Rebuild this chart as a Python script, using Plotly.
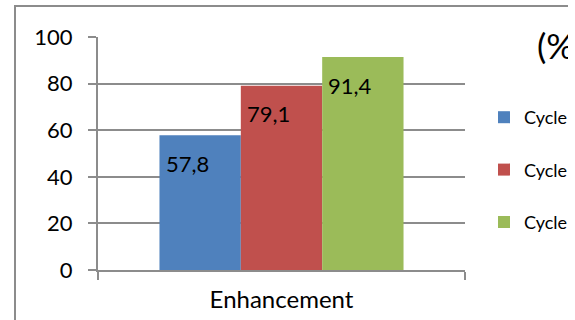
import plotly.graph_objects as go

categories = ["Enhancement"]
series_names = ["Cycle 1", "Cycle 2", "Cycle 3"]
series_values = [[57.8], [79.1], [91.4]]
colors = ["#4F81BD", "#C0504D", "#9BBB59"]
y_ticks = [0, 20, 40, 60, 80, 100]
title_text = "(%)"

W, H = 568, 320
L, R, T, B = 98, 103, 37, 50
FONT = "Lato"
GRAY = "#8C8C8C"

fig = go.Figure()
for i, (name, vals) in enumerate(zip(series_names, series_values)):
    fig.add_trace(go.Bar(
        x=categories, y=vals, name=name, marker_color=colors[i],
        marker_line_width=0, legendgroup=name,
        hoverinfo="skip",
    ))

# data labels
bar_px = (W - L - R) * (1 - 0.335) / len(series_names)
for i, vals in enumerate(series_values):
    for c, v in zip(categories, vals):
        fig.add_annotation(
            x=c, y=v, xref="x", yref="y", text=f"{v:.1f}".replace(".", ","),
            showarrow=False, xshift=(i - 1) * bar_px - 13, yshift=-28,
            font=dict(family=FONT, size=22, color="#000000"),
        )

pw = W - L - R
ph = H - T - B
def px_x(p):
    return (p - L) / pw
def px_y(p):
    return (H - B - p) / ph

# outer chart-area border (left and top visible)
fig.add_shape(type="path", xref="paper", yref="paper",
              path=f"M {px_x(15)},{px_y(340)} L {px_x(15)},{px_y(6)} L {px_x(600)},{px_y(6)}",
              line=dict(color=GRAY, width=2), layer="below")

fig.add_annotation(text=title_text, xref="paper", yref="paper",
                   x=px_x(535), y=px_y(45), xanchor="left", yanchor="middle",
                   showarrow=False, font=dict(family=FONT, size=35, color="#000000"))

fig.update_layout(
    width=W, height=H,
    margin=dict(l=L, r=R, t=T, b=B, autoexpand=False),
    paper_bgcolor="white", plot_bgcolor="white",
    barmode="group", bargap=0.335, bargroupgap=0,
    showlegend=True,
    legend=dict(x=px_x(484), y=px_y(99), xanchor="left", yanchor="top",
                font=dict(family=FONT, size=18, color="#000000"),
                traceorder="grouped", tracegroupgap=26,
                bgcolor="rgba(0,0,0,0)", itemwidth=30),
    font=dict(family=FONT),
)
fig.update_xaxes(
    type="category", range=[-0.5, 0.5], tickson="boundaries",
    ticks="outside", ticklen=8, tickwidth=2, tickcolor=GRAY,
    showline=True, linecolor=GRAY, linewidth=2, showgrid=False,
    tickfont=dict(family=FONT, size=24, color="#000000"),
    ticklabelstandoff=7,
)
fig.update_yaxes(
    range=[0, 100], tickvals=y_ticks, ticks="outside", ticklen=8, tickwidth=2,
    tickcolor=GRAY, showline=True, linecolor=GRAY, linewidth=2,
    showgrid=True, gridcolor=GRAY, gridwidth=2, zeroline=False,
    tickfont=dict(family=FONT, size=22, color="#000000"),
    ticklabelstandoff=11,
)

fig.write_html("out.html")
